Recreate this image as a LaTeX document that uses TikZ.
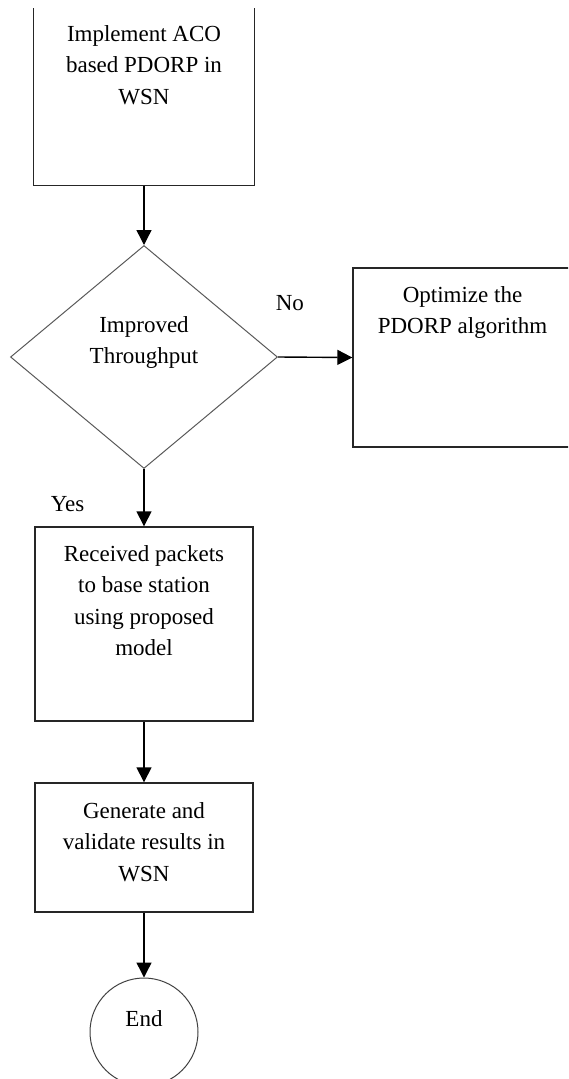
\documentclass[tikz,border=0pt]{standalone}
\usepackage{fontspec}
\setmainfont{Liberation Serif}
\usepackage{tikz}
\usetikzlibrary{shapes.geometric, arrows.meta, positioning}
\tikzstyle{frame}    = [draw=black!85, line width=1.4pt]
\tikzstyle{process}  = [rectangle, frame, minimum width=218pt, inner sep=0pt]
\tikzstyle{decision} = [diamond, draw=black!65, line width=1pt, minimum width=267pt,
                        minimum height=223pt, inner sep=0pt]
\tikzstyle{stopnode} = [circle, draw=black!75, line width=1pt, minimum size=108pt, inner sep=0pt]
\tikzstyle{boxtext}  = [anchor=north, align=center, inner sep=0pt,
                        font=\fontsize{23}{31.5}\selectfont]
\tikzstyle{lbl}      = [inner sep=0pt, font=\fontsize{23}{28}\selectfont]
\tikzstyle{arrow}    = [line width=1.4pt, -{Triangle[length=15pt, width=15pt]}]

\begin{document}
\begin{tikzpicture}[x=1pt, y=-1pt]
    \clip (0,0) rectangle (568,1079);

    \node (impl) [process, draw=none, minimum width=220pt, minimum height=176pt,
        label={[boxtext, yshift=-17pt]north:Implement ACO\\based PDORP in\\WSN}] at (144,97) {};
    \draw [frame] (impl.north west) -- (impl.south west) -- (impl.south east) -- (impl.north east);
    \node (dec)  [decision,
        label={[boxtext, yshift=-71pt]north:Improved\\Throughput}] at (144,357) {};
    \node (opt)  [process, minimum width=219pt, minimum height=179pt,
        label={[boxtext, yshift=-19pt]north:Optimize the\\PDORP algorithm}] at (462.5,357.5) {};
    \node (recv) [process, minimum height=194pt,
        label={[boxtext, yshift=-19pt]north:Received packets\\to base station\\using proposed\\model}] at (144,624) {};
    \node (gen)  [process, minimum height=129pt,
        label={[boxtext, yshift=-20pt]north:Generate and\\validate results in\\WSN}] at (144,847.5) {};
    \node (end)  [stopnode,
        label={[boxtext, yshift=-33pt]north:End}] at (144,1032) {};

    \draw [arrow] (impl.south) -- (dec.north);
    \draw [arrow] (dec.east) -- node[lbl, pos=0.16, anchor=base, yshift=47pt] {No} (opt.west);
    \draw [arrow] (dec.south) -- node[lbl, pos=0.75, anchor=base east, xshift=-59pt] {Yes} (recv.north);
    \draw [arrow] (recv.south) -- (gen.north);
    \draw [arrow] (gen.south) -- (end.north);
\end{tikzpicture}
\end{document}
